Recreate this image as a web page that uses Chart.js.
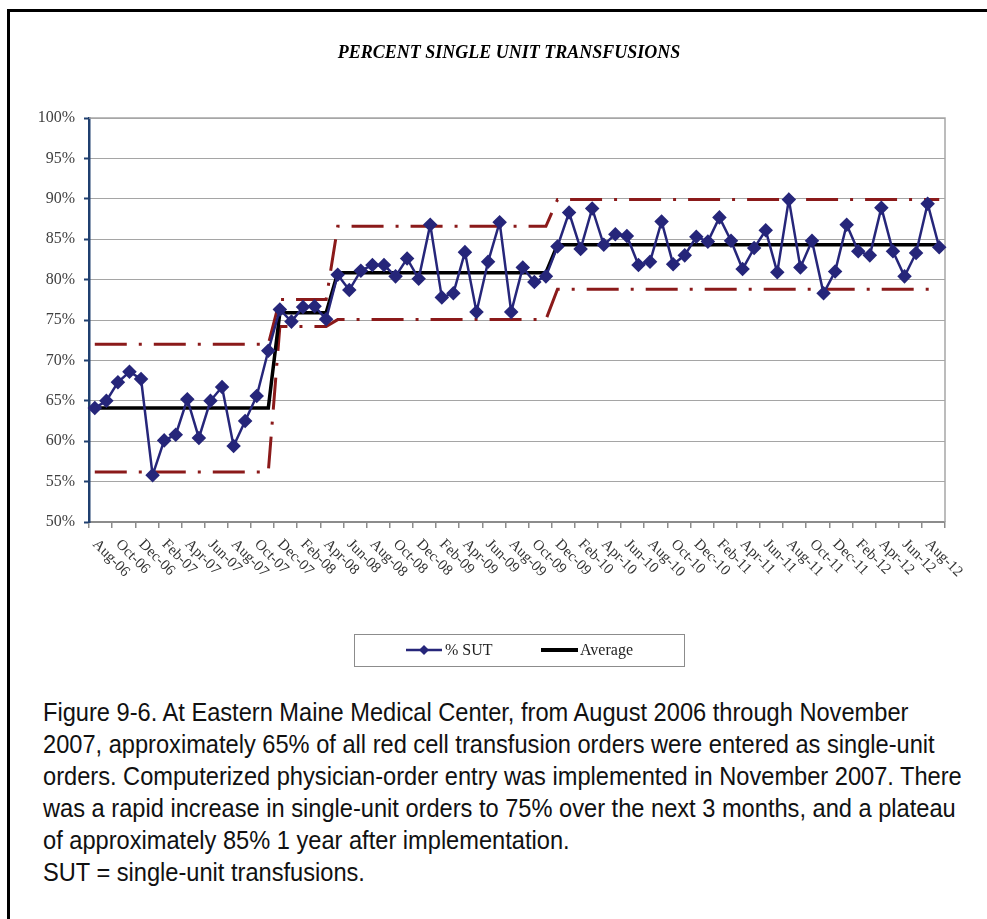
<!DOCTYPE html>
<html lang="en">
<head>
<meta charset="UTF-8">
<title>Percent Single Unit Transfusions</title>
<script src="https://cdn.jsdelivr.net/npm/chart.js"></script>
<style>
  body { margin: 0; background: #fff; width: 987px; height: 919px; overflow: hidden; position: relative; }
  .frame { position: absolute; left: 7px; top: 9px; width: 1000px; height: 1000px; border-left: 3px solid #000; border-top: 3px solid #000; }
  #chartBox { position: absolute; left: 0; top: 0; }
  .caption { position: absolute; left: 43px; top: 696px; font-family: "Liberation Sans", Arial, sans-serif; font-size: 25px; line-height: 32px; color: #111; white-space: nowrap; transform: scaleX(0.945); transform-origin: 0 0; }
</style>
</head>
<body>
<div class="frame"></div>
<canvas id="chartBox" width="987" height="690"></canvas>
<div class="caption">
Figure 9-6. At Eastern Maine Medical Center, from August 2006 through November<br>
2007, approximately 65% of all red cell transfusion orders were entered as single-unit<br>
orders. Computerized physician-order entry was implemented in November 2007. There<br>
was a rapid increase in single-unit orders to 75% over the next 3 months, and a plateau<br>
of approximately 85% 1 year after implementation.<br>
SUT = single-unit transfusions.
</div>

<script>
// meses (ago-2006 a set-2012), rotulo so nos pares
const months = [
  'Aug-06','Sep-06','Oct-06','Nov-06','Dec-06',
  'Jan-07','Feb-07','Mar-07','Apr-07','May-07','Jun-07','Jul-07','Aug-07','Sep-07','Oct-07','Nov-07','Dec-07',
  'Jan-08','Feb-08','Mar-08','Apr-08','May-08','Jun-08','Jul-08','Aug-08','Sep-08','Oct-08','Nov-08','Dec-08',
  'Jan-09','Feb-09','Mar-09','Apr-09','May-09','Jun-09','Jul-09','Aug-09','Sep-09','Oct-09','Nov-09','Dec-09',
  'Jan-10','Feb-10','Mar-10','Apr-10','May-10','Jun-10','Jul-10','Aug-10','Sep-10','Oct-10','Nov-10','Dec-10',
  'Jan-11','Feb-11','Mar-11','Apr-11','May-11','Jun-11','Jul-11','Aug-11','Sep-11','Oct-11','Nov-11','Dec-11',
  'Jan-12','Feb-12','Mar-12','Apr-12','May-12','Jun-12','Jul-12','Aug-12','Sep-12'
];

// % SUT por mes
const pctSut = [
  64.1, 65.0, 67.3, 68.6, 67.7, 55.8, 60.1, 60.8, 65.2, 60.4, 65.0, 66.7, 59.4, 62.5, 65.6, 71.2,
  76.3, 74.8, 76.6, 76.7, 75.1,
  80.6, 78.7, 81.1, 81.8, 81.8, 80.4, 82.6, 80.1, 86.8, 77.8, 78.3, 83.4, 76.0, 82.2, 87.1, 76.0, 81.5, 79.7, 80.4,
  84.1, 88.3, 83.8, 88.8, 84.3, 85.6, 85.4, 81.8, 82.2, 87.2, 81.9, 83.0, 85.3, 84.7, 87.7, 84.8, 81.3,
  83.9, 86.1, 80.9, 89.9, 81.5, 84.8, 78.3, 81.0, 86.8, 83.5, 83.0, 88.9, 83.5, 80.4, 83.3, 89.4, 84.0
];

// fases do grafico de controle (nº de meses, media e limites)
const phaseLen = [16, 5, 19, 34];
const phaseAvg = [64.1, 75.9, 80.85, 84.3];
const phaseUcl = [72.0, 77.55, 86.6, 89.9];
const phaseLcl = [56.2, 74.2, 75.05, 78.8];

const tituloGrafico = 'PERCENT SINGLE UNIT TRANSFUSIONS';

function porFase(niveis) {
  let out = [];
  phaseLen.forEach(function (n, k) {
    for (let j = 0; j < n; j++) out.push(niveis[k]);
  });
  return out;
}

const serif = '"Liberation Serif", "Times New Roman", serif';

// titulo (um pouco a esquerda do centro, como no original)
const titulo = {
  id: 'titulo',
  afterDraw(chart) {
    const ctx = chart.ctx;
    ctx.save();
    ctx.font = 'italic bold 18px ' + serif;
    ctx.fillStyle = '#000';
    ctx.textAlign = 'center';
    ctx.textBaseline = 'middle';
    ctx.fillText(tituloGrafico, 509, 53);
    ctx.restore();
  }
};

// moldura da area do grafico (topo e direita)
const molduraPlot = {
  id: 'molduraPlot',
  beforeDatasetsDraw(chart) {
    const ctx = chart.ctx, a = chart.chartArea;
    ctx.save();
    ctx.strokeStyle = '#a6a6a6';
    ctx.lineWidth = 1.5;
    ctx.beginPath();
    ctx.moveTo(a.left, a.top);
    ctx.lineTo(a.right, a.top);
    ctx.lineTo(a.right, a.bottom);
    ctx.stroke();
    ctx.restore();
  }
};

// rotulos do eixo x inclinados para baixo
const rotulosX = {
  id: 'rotulosX',
  afterDraw(chart) {
    const sc = chart.scales.x, ctx = chart.ctx;
    ctx.save();
    ctx.font = '15px ' + serif;
    ctx.fillStyle = '#333';
    ctx.textAlign = 'left';
    ctx.textBaseline = 'middle';
    for (let i = 0; i < months.length; i += 2) {
      const x = sc.getPixelForValue(i);
      ctx.save();
      ctx.translate(x, sc.top + 20);
      ctx.rotate(Math.PI / 4);
      ctx.fillText(months[i], 0, 0);
      ctx.restore();
    }
    ctx.restore();
  }
};

// legenda com caixa
const legendaCaixa = {
  id: 'legendaCaixa',
  afterDraw(chart) {
    const ctx = chart.ctx, a = chart.chartArea;
    const cx = (a.left + a.right) / 2;
    const x0 = cx - 163, y0 = a.bottom + 112, w = 330, h = 32;
    const ym = y0 + h / 2;
    const d0 = chart.data.datasets[0], d1 = chart.data.datasets[1];
    ctx.save();
    ctx.fillStyle = '#fff';
    ctx.fillRect(x0, y0, w, h);
    ctx.strokeStyle = '#8c8c8c';
    ctx.lineWidth = 1;
    ctx.strokeRect(x0 + 0.5, y0 + 0.5, w, h);

    ctx.strokeStyle = d0.borderColor;
    ctx.lineWidth = 2.5;
    ctx.beginPath(); ctx.moveTo(x0 + 52, ym); ctx.lineTo(x0 + 88, ym); ctx.stroke();
    ctx.fillStyle = d0.borderColor;
    ctx.beginPath();
    ctx.moveTo(x0 + 70, ym - 5); ctx.lineTo(x0 + 75, ym); ctx.lineTo(x0 + 70, ym + 5); ctx.lineTo(x0 + 65, ym);
    ctx.closePath(); ctx.fill();

    ctx.strokeStyle = d1.borderColor;
    ctx.lineWidth = 4;
    ctx.beginPath(); ctx.moveTo(x0 + 187, ym); ctx.lineTo(x0 + 224, ym); ctx.stroke();

    ctx.fillStyle = '#222';
    ctx.font = '16px ' + serif;
    ctx.textBaseline = 'middle';
    ctx.fillText(d0.label, x0 + 91, ym + 1);
    ctx.fillText(d1.label, x0 + 226, ym + 1);
    ctx.restore();
  }
};

const dados = {
  labels: months,
  datasets: [
    {
      label: '% SUT',
      data: pctSut,
      borderColor: '#26267a',
      backgroundColor: '#26267a',
      borderWidth: 2.5,
      pointStyle: 'rectRot',
      pointRadius: 5.5,
      pointHoverRadius: 5.5,
      tension: 0,
      order: 0
    },
    {
      label: 'Average',
      data: porFase(phaseAvg),
      borderColor: '#000000',
      borderWidth: 3.5,
      pointRadius: 0,
      order: 1
    },
    {
      label: 'UCL',
      data: porFase(phaseUcl),
      borderColor: '#8b1a1a',
      borderWidth: 3,
      borderDash: [32, 12, 3, 12],
      pointRadius: 0,
      order: 2
    },
    {
      label: 'LCL',
      data: porFase(phaseLcl),
      borderColor: '#8b1a1a',
      borderWidth: 3,
      borderDash: [32, 12, 3, 12],
      pointRadius: 0,
      order: 2
    }
  ]
};

const config = {
  type: 'line',
  data: dados,
  options: {
    responsive: false,
    animation: false,
    devicePixelRatio: 1,
    layout: { padding: { left: 20, right: 42, top: 118, bottom: 68 } },
    plugins: {
      legend: { display: false },
      tooltip: { enabled: false },
      title: { display: false }
    },
    scales: {
      x: {
        type: 'category',
        offset: true,
        ticks: { display: false, autoSkip: false },
        grid: {
          display: true,
          drawOnChartArea: false,
          offset: true,
          tickLength: 6,
          lineWidth: 1.5,
          color: function (ctx) {
            return (ctx.index === undefined || ctx.index % 2 === 0) ? '#8c8c8c' : 'rgba(0,0,0,0)';
          }
        },
        border: { color: '#8c8c8c', width: 2 },
        afterFit: function (s) { s.height = 100; }
      },
      y: {
        min: 50,
        max: 100,
        ticks: {
          stepSize: 5,
          padding: 9,
          color: '#404040',
          font: { family: serif, size: 16 },
          callback: function (v) { return v + '%'; }
        },
        grid: { color: '#4a4a4a', lineWidth: 1, tickLength: 5, tickColor: '#1f3f6f', tickWidth: 2 },
        border: { color: '#1f3f6f', width: 2.5, dash: [1, 1] },
        afterFit: function (s) { s.width = 69; }
      }
    }
  },
  plugins: [molduraPlot, rotulosX, legendaCaixa, titulo]
};

let grafico = new Chart(document.getElementById('chartBox'), config);
</script>
</body>
</html>
